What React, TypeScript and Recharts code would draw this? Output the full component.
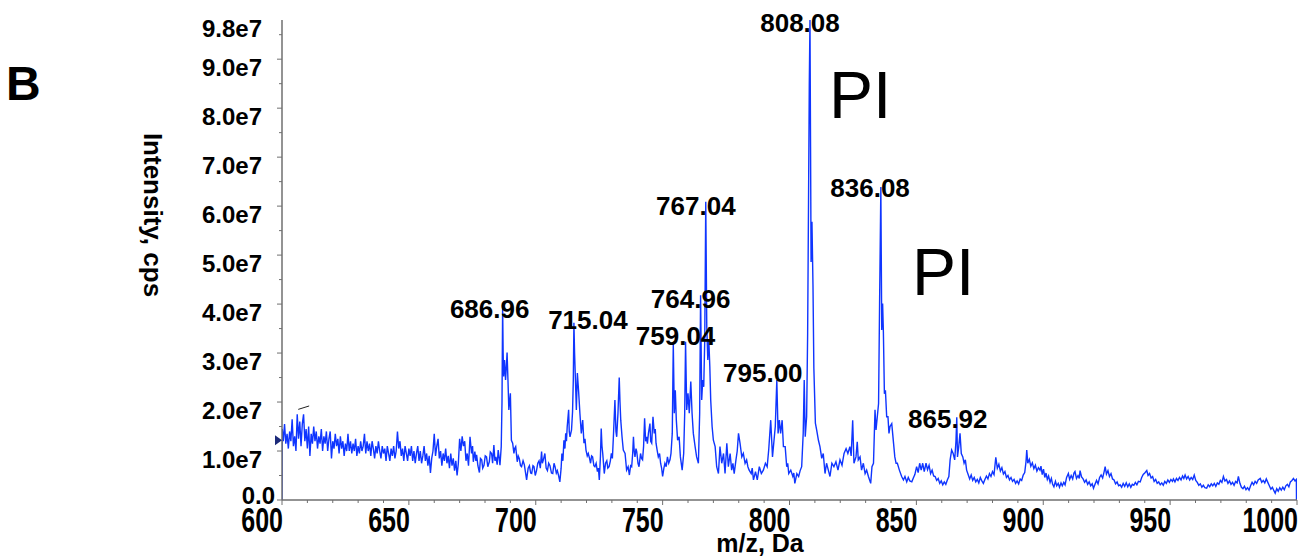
import React from 'react'
import { LineChart, Line, XAxis, YAxis, ReferenceDot, ReferenceLine } from 'recharts'

// spectrum, [m/z, intensity in 1e6 cps]
const lowMassScan: [number, number][] = [
  [600, 0], [600.1, 14.5], [600.5, 12], [601, 15.5], [601.5, 11.5], [602, 13.5], [602.5, 10.5], [603, 14], [603.5, 12], [604, 16.5],
  [604.5, 11], [605, 13], [605.5, 10], [606, 17.5], [606.5, 12.5], [607, 16], [607.5, 11], [608, 15.5], [608.5, 17.5], [609, 12],
  [609.5, 14.5], [610, 10.5], [610.5, 15], [611, 9], [611.5, 13.5], [612, 11.5], [612.5, 15], [613, 12], [613.5, 14], [614, 10.5],
  [614.5, 13], [615, 11.5], [615.5, 14.5], [616, 10], [616.5, 13], [617, 11.5], [617.5, 14], [618, 10], [618.5, 12.5], [619, 14],
  [619.5, 8.5], [620, 12], [620.5, 10.5], [621, 13.5], [621.5, 11], [622, 12.5], [622.5, 9.5], [623, 13], [623.5, 10.5], [624, 12],
  [624.5, 9], [625, 11.5], [625.5, 10], [626, 13.5], [626.5, 10], [627, 12], [627.5, 9.5], [628, 11.5], [628.5, 10], [629, 12.5],
  [629.5, 9], [630, 11], [630.5, 9.5], [631, 12], [631.5, 10], [632, 11], [632.5, 13.5], [633, 9.5], [633.5, 12], [634, 10],
  [634.5, 11.5], [635, 9], [635.5, 12], [636, 10.5], [636.5, 8.5], [637, 11], [637.5, 9.5], [638, 12], [638.5, 10], [639, 8.5],
  [639.5, 11], [640, 9.5], [640.5, 10.5], [641, 8], [641.5, 11], [642, 9.5], [642.5, 8], [643, 10.5], [643.5, 9], [644, 11],
  [644.5, 8.5], [645, 10], [645.5, 14], [646, 10.5], [646.5, 12], [647, 9], [647.5, 10.5], [648, 8], [648.5, 11], [649, 9.5],
  [649.5, 8], [650, 10.5], [650.5, 9], [651, 11], [651.5, 8], [652, 10], [652.5, 7.5], [653, 9.5], [653.5, 11], [654, 8],
  [654.5, 10], [655, 7.5], [655.5, 9], [656, 11], [656.5, 8], [657, 9.5], [657.5, 7], [658, 9], [658.5, 5.5], [659, 8.5],
  [659.5, 10], [660, 13.5], [660.5, 9], [661, 11], [661.5, 12.5], [662, 8.5], [662.5, 10], [663, 7], [663.5, 9.5], [664, 8],
  [664.5, 10.5], [665, 7.5], [665.5, 9], [666, 6.5], [666.5, 9.5], [667, 7], [667.5, 8.5], [668, 6], [668.5, 8], [669, 5],
  [669.5, 7.5], [670, 12.5], [670.5, 10], [671, 13], [671.5, 11], [672, 12], [672.5, 8], [673, 9.5], [673.5, 7],
]

const peak687Region: [number, number][] = [
  [674.1, 12.9], [674.7, 9.5], [675.1, 11], [675.4, 7.8], [676, 9.9], [676.4, 8], [676.7, 9.2], [677.2, 7], [677.8, 5.6], [678.2, 8.5],
  [678.7, 8.2], [679.1, 6.5], [679.6, 7.1], [680.1, 9], [680.6, 8.8], [681.1, 6.8], [681.7, 7.8], [682.1, 9.8], [682.6, 9.5], [683, 7.5],
  [683.5, 11.2], [683.9, 8], [684.3, 8.8], [684.8, 7.2], [685.2, 10.2], [685.6, 8.5], [685.9, 7.1], [686.4, 10.9], [686.7, 20], [686.95, 39.6],
  [687.15, 30], [687.35, 25.2], [687.7, 28.6], [688.1, 24.5], [688.4, 27], [688.7, 30.1], [689.05, 24.5], [689.4, 18.4], [690, 21.8], [690.4, 12.2],
  [690.9, 11.6], [691.4, 9.5], [691.7, 10.5], [692.1, 10.9], [692.7, 7.8], [693.1, 9], [693.5, 8.5], [694, 7], [694.4, 6.8], [695, 8],
  [695.5, 7.2], [696, 5.5], [696.4, 4.1], [697, 6.5], [697.5, 7], [698, 5.5], [698.4, 5.4], [698.9, 7], [699.3, 6.8], [699.8, 5],
  [700.3, 6], [700.8, 7.5], [701.3, 8], [701.8, 6.5], [702.3, 9.9], [702.6, 7.5], [703, 8.2], [703.6, 9.5], [704.1, 6.5], [704.6, 6],
  [705.1, 7.5], [705.6, 7], [706.2, 5.5], [706.7, 5.4], [707.2, 7.5], [707.6, 6.8], [708.1, 5.5], [708.5, 6], [709, 5], [709.5, 3.7],
  [710, 6.5], [710.3, 9.5], [710.7, 8], [711.1, 12.2],
]

const peak715Region: [number, number][] = [
  [711.5, 10.5], [711.8, 13.6], [712.1, 12], [712.4, 15], [712.96, 18.4], [713.2, 14], [713.5, 12.9], [714.1, 14.3], [714.5, 18], [714.8, 24.5],
  [715.04, 36.2], [715.3, 30], [715.6, 25.2], [716, 18.4], [716.4, 25.9], [716.9, 22.1], [717.4, 17.7], [717.95, 13.6], [718.5, 16.3], [719, 11.6],
  [719.4, 12.5], [719.8, 10.2], [720.3, 9], [720.7, 9.5], [721.2, 8.5], [721.6, 7.5], [722, 9], [722.4, 8.8], [722.9, 7], [723.3, 6.8],
  [723.8, 7.5], [724.3, 5.8], [724.7, 6.5], [725.05, 4.1], [725.5, 9], [725.8, 14.6], [726.1, 11], [726.4, 9.5], [727, 5.4], [727.5, 7.5],
  [728, 8], [728.4, 6.5], [728.9, 6.8], [729.4, 8], [729.8, 9.5], [730.2, 8.5], [730.6, 12.9], [731.2, 20.4], [731.6, 14], [731.9, 12.9],
  [732.4, 17.7], [732.9, 25], [733.2, 20], [733.5, 16.3], [734, 12.9], [734.5, 10.2], [735.2, 9.5], [735.8, 6.1], [736.4, 6.8], [736.9, 5.1],
  [737.4, 7], [737.8, 6.8], [738.2, 9.5], [738.5, 12.9], [738.8, 10], [739.1, 8.8], [739.5, 10.5], [739.8, 9.9], [740.3, 7.5], [740.7, 6.8],
  [741.3, 9.5], [741.7, 8.5], [742.1, 8.2], [742.5, 11], [742.9, 16.7], [743.3, 12], [743.7, 12.9], [744, 11.5], [744.4, 13.6], [745, 15.6],
  [745.3, 12], [745.7, 11.6], [746.2, 17], [746.7, 13.6], [747.1, 14.5], [747.4, 11.6], [747.9, 10], [748.3, 8.8], [748.8, 9.5], [749.2, 7.5],
  [749.6, 6.5], [750, 4.8], [750.5, 6.5], [750.9, 7.5], [751.4, 6.8], [751.9, 8.8], [752.4, 7.5], [752.9, 8.2],
]

const cluster760Region: [number, number][] = [
  [753.3, 9.5], [753.8, 13.6], [754.2, 32], [754.6, 17.7], [755, 22.4], [755.4, 16.3], [755.9, 12.2], [756.5, 12.9], [757, 8.8], [757.7, 6.1],
  [758.3, 9.5], [758.7, 17.7], [759.04, 32.3], [759.5, 18.4], [760, 21.8], [760.5, 17.7], [761.1, 24.2], [761.6, 17.7], [762.1, 13.6], [762.8, 10.9],
  [763.4, 8.8], [764.1, 7.5], [764.6, 17.7], [764.96, 41.8], [765.4, 20.4], [765.8, 24.5], [766.2, 23.1], [766.6, 32.7], [767.0, 60.9], [767.4, 35.4],
  [767.8, 28.6], [768.2, 32.7], [768.6, 27.2], [768.95, 20.4], [769.5, 15], [770, 12.2], [770.7, 10.9], [771.3, 6.8], [772, 5.4], [772.6, 10.9],
  [773.3, 7.5], [774, 9.5], [774.6, 5.4], [775.3, 11.6], [775.9, 6.8], [776.6, 9.5], [777.2, 6.1], [777.7, 7.5], [778.2, 5.4], [778.9, 8.2],
  [779.4, 10], [779.9, 13.6], [780.5, 11.6], [781.2, 8.8], [781.8, 9.5], [782.5, 7.5], [783.1, 8.2], [783.6, 6.8], [784.1, 6.1], [784.9, 5.4],
  [785.3, 6.5], [785.8, 4.1], [786.6, 5.8], [787.3, 4.1], [788.1, 6.8], [788.9, 5.4], [789.7, 6.1], [790.5, 7.5], [791.2, 6.8], [791.8, 10.2],
  [792.6, 16.3], [793.3, 8.8], [793.9, 12.2], [794.4, 15], [795, 24.5], [795.5, 13.6], [796, 16.3], [796.5, 13.6], [797.1, 16.3], [797.6, 10.9],
  [798.3, 10.9], [798.9, 6.8], [799.3, 7.5], [799.7, 5.4], [800.5, 6.1], [801.3, 4.8], [801.7, 5.5], [802.1, 3.4], [802.9, 5.4], [803.6, 4.8],
  [804.2, 6], [804.8, 6.8],
]

const pi808Region: [number, number][] = [
  [805.4, 13.6], [805.8, 24.5], [806.2, 12.9], [806.75, 17], [807.15, 34], [807.5, 61], [807.8, 85], [808.07, 98], [808.3, 72], [808.5, 48.6],
  [808.85, 56.8], [809.25, 44], [809.6, 26.9], [810.2, 15.7], [810.7, 14.3], [811.4, 12.2], [812, 10.9], [812.7, 8.5], [813.3, 9.5], [814, 5.4],
  [814.6, 7.5], [815.3, 6.1], [815.95, 4.8], [816.7, 7.5], [817.5, 6.8], [818.3, 7.8], [819.1, 6.1], [819.9, 8.2], [820.7, 7.1], [821.5, 9.5],
  [822.3, 10.5], [823, 9.5], [823.8, 10.9],
]

const pi836Region: [number, number][] = [
  [824.3, 9], [824.9, 16.3], [825.4, 7.5], [826.2, 8.8], [826.7, 11.9], [827.1, 8.2], [827.8, 8.8], [828.4, 6.1], [829.1, 7.5], [829.8, 5.4],
  [830.4, 6.1], [831.1, 4.8], [832, 3.4], [832.5, 6.8], [833.1, 7.5], [833.7, 18.4], [834.1, 14.3], [834.6, 17], [835.1, 19.7], [835.5, 40.1],
  [836.0, 63.9], [836.35, 34.7], [836.7, 40.1], [837, 34.3], [837.4, 21.7], [837.8, 22.4], [838.3, 17], [838.8, 17], [839.2, 13.6], [839.6, 15],
  [840.3, 15.6], [841, 11.6], [841.5, 8.8], [842, 7.5], [842.5, 7.5], [843.3, 6.1], [844.2, 4.8], [844.9, 4.1], [845.5, 4.8], [846.2, 3.7],
  [846.8, 4.6], [847.4, 3.9], [848.2, 3.7], [848.8, 4.5], [849.4, 5.2], [850.1, 6.8], [850.7, 5.6], [851.3, 7.5], [851.9, 6.1], [852.5, 7.5],
  [853.1, 5.8], [853.8, 7.5], [854.4, 6.2], [855, 7.1], [855.6, 5.4], [856.2, 6.1], [856.8, 4.9], [857.4, 4.8], [858, 4.0], [858.6, 4.4],
  [859.2, 3.4], [859.8, 3.9], [860.4, 3.1], [861, 3.7], [861.6, 3.2], [862.2, 4.1], [862.8, 4.8], [863.3, 8.2], [863.9, 10.2], [864.5, 9.5],
  [865.1, 8.2], [865.6, 12], [865.92, 16.9], [866.2, 8.8], [866.7, 10.9], [867.2, 13.6], [867.7, 9.5], [868.3, 8.8], [868.8, 7.5], [869.3, 8.2],
  [869.8, 6.1], [870.4, 5.2], [871, 4.3], [871.6, 5.1], [872.2, 4.0], [872.8, 4.6], [873.4, 3.7], [874, 4.2], [874.6, 3.5], [875.2, 4.6],
  [875.8, 3.9], [876.4, 3.4], [877, 4.2], [877.6, 4.9], [878.2, 4.3], [878.8, 5.4], [879.4, 4.8], [880, 5.8], [880.6, 5.2], [881.3, 8.7],
  [881.9, 6.5], [882.5, 7.3], [883.1, 5.9], [883.7, 6.6], [884.3, 5.3], [884.9, 5.8], [885.5, 4.6], [886.1, 5.0], [886.7, 4.1], [887.3, 4.6],
  [887.9, 3.8], [888.5, 4.2], [889.1, 3.4], [889.7, 3.9], [890.3, 3.3], [890.9, 4.3], [891.5, 4.0], [892.1, 5.1], [892.7, 5.6], [893.2, 7.8],
  [893.5, 10.2], [893.9, 7.5], [894.5, 8.3], [895.1, 6.9], [895.7, 7.6], [896.3, 6.4], [896.9, 7.1], [897.5, 5.9], [898.1, 6.6],
]

const highMassScan: [number, number][] = [
  [898.7, 6.1], [899.1, 6.9], [899.6, 5.2], [900.1, 6.3], [900.6, 4.6], [901.1, 5.5], [901.6, 4.2], [902.1, 4.9], [902.7, 3.6], [903.2, 4.4],
  [903.7, 3.2], [904.2, 2.7], [904.8, 3.8], [905.3, 2.9], [905.9, 3.4], [906.4, 2.6], [907, 3.5], [907.5, 2.9], [908.1, 3.6], [908.6, 3.1],
  [909.2, 4.6], [909.9, 5.4], [910.4, 4.2], [911, 5.0], [911.6, 4.3], [912.1, 5.5], [912.5, 5.8], [913.1, 4.4], [913.7, 5.0], [914.2, 4.4],
  [914.5, 6.0], [915.1, 4.7], [915.7, 4.3], [916.3, 3.6], [916.9, 4.1], [917.5, 3.2], [918.1, 3.7], [918.7, 2.9], [919.3, 3.3], [919.8, 2.4],
  [920.4, 3.2], [921, 4.0], [921.6, 3.3], [922.2, 4.6], [922.8, 5.1], [923.4, 4.5], [924, 5.8], [924.4, 6.8], [924.9, 5.3], [925.5, 6.0],
  [926.1, 4.8], [926.7, 5.4], [927.3, 4.3], [927.9, 4.1], [928.5, 3.3], [929.1, 3.7], [929.7, 2.9], [930.3, 3.1], [930.9, 2.6], [931.5, 3.4],
  [932.1, 2.8], [932.7, 3.5], [933.3, 2.7], [933.9, 3.3], [934.5, 2.6], [935.1, 3.2], [935.7, 3.0], [936.3, 3.6], [936.9, 3.1], [937.5, 3.8],
  [938.2, 3.7], [938.8, 4.6], [939.4, 5.2], [940, 5.5], [940.8, 6.0], [941.3, 5.0], [941.9, 5.4], [942.5, 4.5], [943.1, 4.8], [943.7, 3.8],
  [944.3, 4.2], [944.9, 3.4], [945.5, 3.7], [946.1, 3.1], [946.7, 3.5], [947.3, 3.0], [947.9, 3.8], [948.5, 3.4], [949.1, 4.1], [949.7, 3.6],
  [950.3, 4.2], [950.9, 3.8], [951.3, 4.3], [951.9, 3.7], [952.5, 4.4], [953.1, 4.0], [953.7, 4.6], [954.3, 4.1], [954.9, 4.9], [955.4, 4.4],
  [955.9, 5.1], [956.5, 4.3], [957.1, 4.8], [957.7, 4.1], [958.3, 4.6], [958.9, 4.2], [959.5, 5.1], [960.1, 4.0], [960.7, 3.6], [961.3, 3.0],
  [961.9, 3.3], [962.5, 2.6], [963.1, 3.0], [963.7, 2.5], [964.4, 2.4], [965, 3.1], [965.6, 2.7], [966.2, 3.3], [966.8, 2.9], [967.4, 3.4],
  [968, 2.8], [968.6, 3.5], [969.2, 3.2], [969.8, 4.0], [970.4, 3.6], [971, 4.8], [971.6, 3.9], [972.2, 4.2], [972.8, 3.4], [973.4, 3.9],
  [974, 3.2], [974.6, 3.6], [975.2, 3.0], [975.8, 3.8], [976.4, 3.5], [976.9, 4.8], [977.5, 3.4], [978.1, 2.6], [978.7, 2.3], [979.3, 2.8],
  [979.9, 2.1], [980.5, 2.5], [981.1, 2.0], [981.7, 2.9], [982.3, 3.6], [982.9, 3.1], [983.5, 3.8], [984.1, 3.4], [984.7, 4.1], [985.5, 4.4],
  [986.1, 3.6], [986.7, 4.0], [987.3, 3.5], [987.9, 4.3], [988.5, 3.6], [989.1, 2.9], [989.7, 2.2], [990.3, 2.6], [990.9, 1.9], [991.4, 1.4],
  [992, 2.3], [992.6, 1.8], [993.2, 2.5], [993.8, 2.0], [994.4, 2.6], [995, 2.1], [995.6, 2.9], [996.2, 3.2], [996.8, 2.7], [997.4, 3.7],
  [998, 4.0], [998.6, 4.4], [999.2, 3.9], [999.75, 4.2], [999.8, 0],
]

const peakLabels = [
  { text: '686.96', top: 39.6 },
  { text: '715.04', top: 36.2 },
  { text: '759.04', top: 32.3 },
  { text: '764.96', top: 41.8 },
  { text: '767.04', top: 60.9 },
  { text: '795.00', top: 24.5 },
  { text: '808.08', top: 98 },
  { text: '836.08', top: 63.9 },
  { text: '865.92', top: 16.9 },
]
// pixel nudge of each label from its peak top (centre x, baseline y)
const labelNudge: Record<string, [number, number]> = {
  '686.96': [-13, 12], '715.04': [14, 6], '759.04': [-10, 3], '764.96': [-10, 13], '767.04': [-10, 13],
  '795.00': [-14, 2], '808.08': [-10, 12], '836.08': [-11, 10], '865.92': [-9, 11],
}

const xMajorTicks = [600, 650, 700, 750, 800, 850, 900, 950, 1000]
const xMinorTicks = [610, 620, 630, 640, 660, 670, 680, 690, 710, 720, 730, 740, 760, 770, 780, 790,
  810, 820, 830, 840, 860, 870, 880, 890, 910, 920, 930, 940, 960, 970, 980, 990]
const yLabelValues = [0, 1e7, 2e7, 3e7, 4e7, 5e7, 6e7, 7e7, 8e7, 9e7, 9.8e7]
const yLabelTexts = ['0.0', '1.0e7', '2.0e7', '3.0e7', '4.0e7', '5.0e7', '6.0e7', '7.0e7', '8.0e7', '9.0e7', '9.8e7']
const yMinorTicks = [5e6, 1.5e7, 2.5e7, 3.5e7, 4.5e7, 5.5e7, 6.5e7, 7.5e7, 8.5e7, 9.5e7]

const spectrum = [
  ...lowMassScan, ...peak687Region, ...peak715Region, ...cluster760Region,
  ...pi808Region, ...pi836Region, ...highMassScan,
].map(([mz, i]) => ({ mz, intensity: i * 1e6 }))

const font = '"Liberation Sans", Arial, Helvetica, sans-serif'
const axisColor = '#6f6f6f'
const traceColor = '#0f35ff'

const XTick = (props: any) => {
  const { x, y, payload } = props
  const v = payload.value
  const major = xMajorTicks.includes(v)
  return (
    <g>
      <line x1={x} y1={y} x2={x} y2={y + (major ? 5 : 3)} stroke={axisColor} strokeWidth={1} />
      {major && (
        <text
          transform={`translate(${x + 1},${y + 32}) scale(1,1.4)`}
          textAnchor="end" fontSize={25} fontWeight="bold" fontFamily={font} fill="#000"
        >
          {v}
        </text>
      )}
    </g>
  )
}

const YTick = (props: any) => {
  const { x, y, payload } = props
  const v = payload.value
  const idx = yLabelValues.indexOf(v)
  const minor = yMinorTicks.includes(v)
  const isTop = v === 9.8e7
  const isZero = v === 0
  return (
    <g>
      {!isTop && <line x1={x - (minor ? 3 : 5)} y1={y} x2={x} y2={y} stroke={axisColor} strokeWidth={1} />}
      {idx >= 0 && (
        <text
          x={isZero ? x - 7 : x - 20} y={isZero ? y + 4 : y + 17}
          textAnchor="end" fontSize={24} fontWeight="bold" fontFamily={font} fill="#000"
        >
          {yLabelTexts[idx]}
        </text>
      )}
    </g>
  )
}

export default function App() {
  const yTicks = [...yLabelValues, ...yMinorTicks].sort((a, b) => a - b)
  const xTicks = [...xMajorTicks, ...xMinorTicks].sort((a, b) => a - b)
  return (
    <div style={{ position: 'absolute', left: 0, top: 0, width: 1314, height: 558, background: '#fff' }}>
      <LineChart width={1314} height={558} data={spectrum} margin={{ top: 20, right: 17, bottom: 0, left: 0 }}>
        <XAxis
          dataKey="mz" type="number" domain={[600, 1000]} ticks={xTicks} interval={0}
          allowDataOverflow height={58} tickSize={0} tickMargin={0} tickLine={false}
          axisLine={{ stroke: axisColor, strokeWidth: 1.5 }} tick={<XTick />}
        />
        <YAxis
          type="number" domain={[0, 9.8e7]} ticks={yTicks} interval={0}
          allowDataOverflow width={282} tickSize={0} tickMargin={0} tickLine={false}
          axisLine={{ stroke: axisColor, strokeWidth: 1.5 }} tick={<YTick />}
        />
        <Line
          type="linear" dataKey="intensity" stroke={traceColor} strokeWidth={1.4}
          dot={false} isAnimationActive={false}
        />
        <ReferenceLine
          segment={[{ x: 606.4, y: 18.5e6 }, { x: 610.7, y: 19.2e6 }]}
          stroke="#222" strokeWidth={1} ifOverflow="visible"
        />
        <ReferenceDot
          x={600} y={12.2e6} r={0} ifOverflow="visible"
          shape={(p: any) => (
            <path d={`M${p.cx - 7},${p.cy - 5} L${p.cx},${p.cy} L${p.cx - 7},${p.cy + 5} Z`} fill="#1c2a7a" />
          )}
        />
        {peakLabels.map((l) => (
          <ReferenceDot
            key={l.text} x={parseFloat(l.text)} y={l.top * 1e6} r={0} ifOverflow="visible"
            shape={(p: any) => (
              <text
                x={p.cx + labelNudge[l.text][0]} y={p.cy + labelNudge[l.text][1]}
                textAnchor="middle" fontSize={26} fontWeight="bold" fontFamily={font} fill="#000"
              >
                {l.text}
              </text>
            )}
          />
        ))}
      </LineChart>
      <svg width={1314} height={558} style={{ position: 'absolute', left: 0, top: 0, pointerEvents: 'none' }}>
        <text x={6} y={100} fontSize={48} fontWeight="bold" fontFamily={font} fill="#000">B</text>
        <text
          x={144} y={215} transform="rotate(90,144,215)" textAnchor="middle"
          fontSize={26} fontWeight="bold" fontFamily={font} fill="#000"
        >
          Intensity, cps
        </text>
        <text x={760} y={552} textAnchor="middle" fontSize={25} fontWeight="bold" fontFamily={font} fill="#000">
          m/z, Da
        </text>
        <text x={829} y={118} fontSize={66} fontFamily={font} fill="#000">PI</text>
        <text x={912} y={295} fontSize={66} fontFamily={font} fill="#000">PI</text>
      </svg>
    </div>
  )
}
